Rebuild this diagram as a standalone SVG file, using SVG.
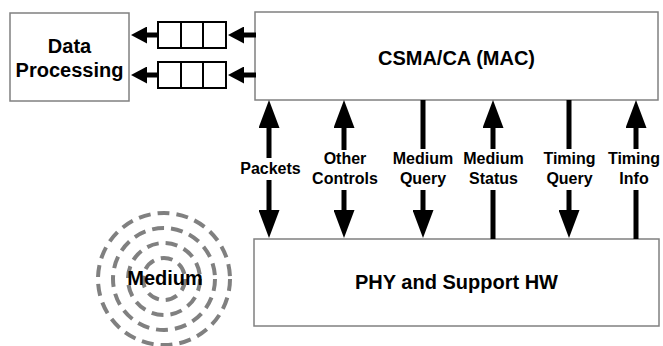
<svg xmlns="http://www.w3.org/2000/svg" width="663" height="346" viewBox="0 0 663 346">
  <style>
    .box { fill: #ffffff; stroke: #808080; stroke-width: 1.5; }
    .title { font-family: "Liberation Sans", Arial, sans-serif; font-weight: bold; font-size: 20px; fill: #000; text-anchor: middle; }
    .label { font-family: "Liberation Sans", Arial, sans-serif; font-weight: bold; font-size: 16px; fill: #000; text-anchor: middle; }
    .queue { fill: #ffffff; stroke: #000; stroke-width: 2; }
    .shaft { stroke: #000; stroke-width: 5; fill: none; }
    .big { marker-end: url(#headBig); }
    .bigStart { marker-start: url(#headBig); }
    .small { marker-end: url(#headSmall); }
    .ring { fill: none; stroke: #808080; stroke-width: 4; stroke-dasharray: 12 7; }
  </style>
  <defs>
    <marker id="headBig" markerUnits="userSpaceOnUse" markerWidth="28" markerHeight="21" refX="0" refY="10.5" orient="auto-start-reverse" viewBox="0 0 28 21">
      <path d="M0,0 L28,10.5 L0,21 z" fill="#000"/>
    </marker>
    <marker id="headSmall" markerUnits="userSpaceOnUse" markerWidth="16" markerHeight="17" refX="0" refY="8.5" orient="auto" viewBox="0 0 16 17">
      <path d="M0,0 L16,8.5 L0,17 z" fill="#000"/>
    </marker>
  </defs>

  <!-- radio medium -->
  <g id="medium">
    <circle class="ring" cx="164" cy="279" r="66"/>
    <circle class="ring" cx="164" cy="279" r="51"/>
    <circle class="ring" cx="164" cy="279" r="36"/>
    <circle class="ring" cx="164" cy="279" r="21"/>
    <text class="title" x="165" y="285">Medium</text>
  </g>

  <g id="data-processing">
    <rect class="box" x="10" y="13" width="119" height="88"/>
    <text class="title" x="69.5" y="53">Data</text>
    <text class="title" x="69.5" y="77">Processing</text>
  </g>

  <g id="mac">
    <rect class="box" x="255" y="12" width="403" height="88"/>
    <text class="title" x="456.5" y="65">CSMA/CA (MAC)</text>
  </g>

  <g id="phy">
    <rect class="box" x="254" y="239" width="405" height="87"/>
    <text class="title" x="456.5" y="289">PHY and Support HW</text>
  </g>

  <!-- receive queues between MAC and data processing -->
  <g id="queue-1">
    <rect class="queue" x="158" y="22" width="68" height="26"/>
    <line class="queue" x1="181" y1="22" x2="181" y2="48"/>
    <line class="queue" x1="203" y1="22" x2="203" y2="48"/>
  </g>
  <g id="queue-2">
    <rect class="queue" x="158" y="62" width="68" height="26"/>
    <line class="queue" x1="181" y1="62" x2="181" y2="88"/>
    <line class="queue" x1="203" y1="62" x2="203" y2="88"/>
  </g>

  <g id="connectors">
    <!-- MAC to queues, queues to data processing -->
    <line class="shaft small" x1="256" y1="35" x2="244" y2="35"/>
    <line class="shaft small" x1="256" y1="75" x2="244" y2="75"/>
    <line class="shaft small" x1="158" y1="35" x2="147" y2="35"/>
    <line class="shaft small" x1="158" y1="75" x2="147" y2="75"/>

    <!-- Packets -->
    <line class="shaft bigStart" x1="269" y1="128" x2="269" y2="158"/>
    <line class="shaft big" x1="269" y1="180" x2="269" y2="210"/>
    <!-- Other Controls -->
    <line class="shaft bigStart" x1="344" y1="128" x2="344" y2="150"/>
    <line class="shaft big" x1="344" y1="190" x2="344" y2="210"/>
    <!-- Medium Query -->
    <line class="shaft" x1="423" y1="100" x2="423" y2="149"/>
    <line class="shaft big" x1="423" y1="190" x2="423" y2="210"/>
    <!-- Medium Status -->
    <line class="shaft bigStart" x1="493" y1="128" x2="493" y2="149"/>
    <line class="shaft" x1="493" y1="190" x2="493" y2="239"/>
    <!-- Timing Query -->
    <line class="shaft" x1="569" y1="100" x2="569" y2="149"/>
    <line class="shaft big" x1="569" y1="190" x2="569" y2="210"/>
    <!-- Timing Info -->
    <line class="shaft bigStart" x1="636" y1="128" x2="636" y2="149"/>
    <line class="shaft" x1="636" y1="190" x2="636" y2="239"/>

    <text class="label" x="270.5" y="174">Packets</text>
    <text class="label" x="345" y="164">Other</text>
    <text class="label" x="345" y="184">Controls</text>
    <text class="label" x="423" y="164">Medium</text>
    <text class="label" x="423" y="184">Query</text>
    <text class="label" x="493.5" y="164">Medium</text>
    <text class="label" x="493.5" y="184">Status</text>
    <text class="label" x="569.5" y="164">Timing</text>
    <text class="label" x="569.5" y="184">Query</text>
    <text class="label" x="634" y="164">Timing</text>
    <text class="label" x="634" y="184">Info</text>
  </g>
</svg>
